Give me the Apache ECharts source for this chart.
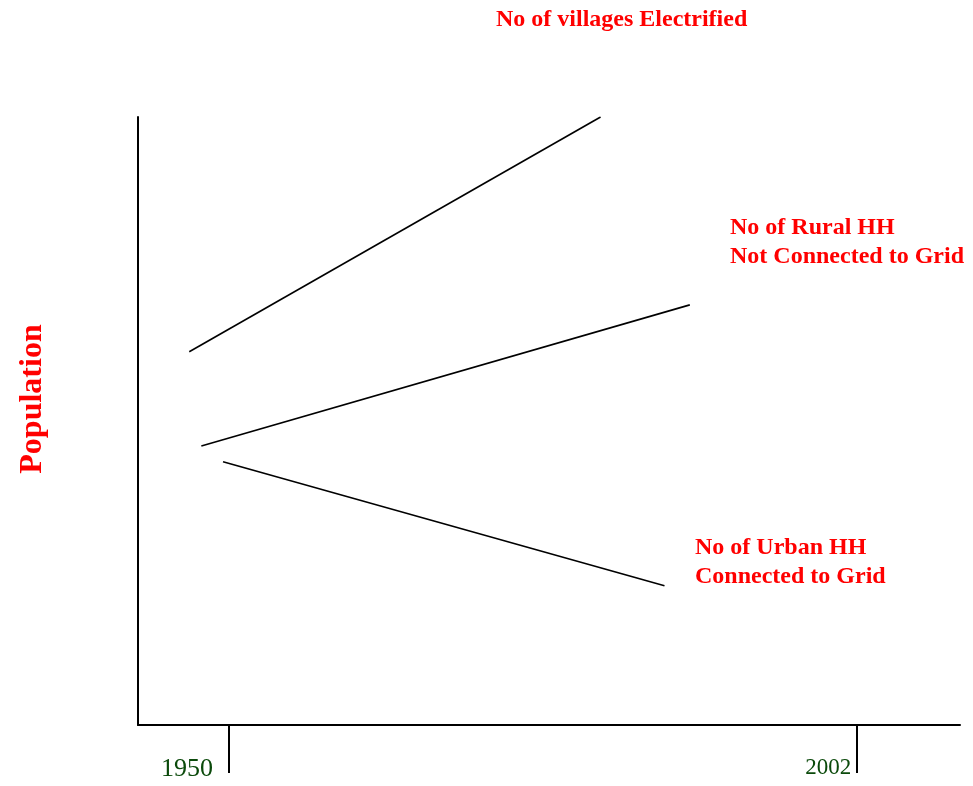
<!DOCTYPE html>
<html>
<head>
<meta charset="utf-8">
<title>Population vs year</title>
<script src="https://cdn.jsdelivr.net/npm/echarts@6/dist/echarts.min.js"></script>
<style>
  html, body { margin: 0; padding: 0; background: #fff; }
  #app { width: 973px; height: 786px; }
</style>
</head>
<body>
<div id="app"></div>
<script>
// schematic trend lines, x = year, y = relative level (0..100)
var villagesLine = [[1946.7, 61.4], [1980.8, 100]];
var ruralLine = [[1947.7, 45.9], [1988.2, 69.1]];
var urbanLine = [[1949.5, 43.3], [1986.1, 22.9]];

var xTickValues = [1950, 2002];
var xTickLabels = ['1950', '2002'];
var yAxisName = 'Population';

var villagesLabel = 'No of villages Electrified';
var ruralLabel = 'No of Rural HH\nNot Connected to Grid';
var urbanLabel = 'No of Urban HH\nConnected to Grid';

var serif = '"Liberation Serif", "Times New Roman", serif';
var red = '#ff0000';

var chart = echarts.init(document.getElementById('app'));

function lineSeries(name, data) {
    return {
        name: name,
        type: 'line',
        data: data,
        symbol: 'none',
        silent: true,
        animation: false,
        lineStyle: { color: '#000', width: 1.6 }
    };
}

chart.setOption({
    backgroundColor: '#fff',
    animation: false,
    grid: { left: 138, right: 13, top: 117, bottom: 61 },
    xAxis: {
        type: 'value',
        min: 1942.45,
        max: 2010.6,
        splitLine: { show: false },
        axisLine: { show: true, lineStyle: { color: '#000', width: 2 } },
        axisTick: {
            show: true,
            customValues: xTickValues,
            length: 48,
            lineStyle: { color: '#000', width: 2 }
        },
        axisLabel: {
            customValues: xTickValues,
            margin: 31,
            align: 'right',
            formatter: function (v) {
                var i = xTickValues.indexOf(v);
                return i === 0 ? '{a|' + xTickLabels[0] + '}' : '{b|' + xTickLabels[1] + '}';
            },
            rich: {
                a: { fontFamily: serif, fontSize: 26, color: '#0b4a0b', padding: [0, 16, 0, 0] },
                b: { fontFamily: serif, fontSize: 23, color: '#0b4a0b', padding: [0, 5, 0, 0] }
            }
        }
    },
    yAxis: {
        type: 'value',
        min: 0,
        max: 100,
        name: yAxisName,
        nameLocation: 'middle',
        nameRotate: 90,
        nameGap: 89,
        nameTextStyle: {
            fontFamily: serif, fontSize: 32, fontWeight: 'bold', color: red,
            padding: [0, 0, 0, 44]
        },
        splitLine: { show: false },
        axisLine: { show: true, lineStyle: { color: '#000', width: 2 } },
        axisTick: { show: false },
        axisLabel: { show: false }
    },
    graphic: [
        {
            type: 'text', left: 496, top: 5, silent: true,
            style: { text: villagesLabel, fontFamily: serif, fontSize: 24, fontWeight: 'bold', fill: red, lineHeight: 29 }
        },
        {
            type: 'text', left: 730, top: 213, silent: true,
            style: { text: ruralLabel, fontFamily: serif, fontSize: 24, fontWeight: 'bold', fill: red, lineHeight: 29 }
        },
        {
            type: 'text', left: 695, top: 533, silent: true,
            style: { text: urbanLabel, fontFamily: serif, fontSize: 24, fontWeight: 'bold', fill: red, lineHeight: 29 }
        }
    ],
    series: [
        lineSeries('villages', villagesLine),
        lineSeries('rural', ruralLine),
        lineSeries('urban', urbanLine)
    ]
});
</script>
</body>
</html>
